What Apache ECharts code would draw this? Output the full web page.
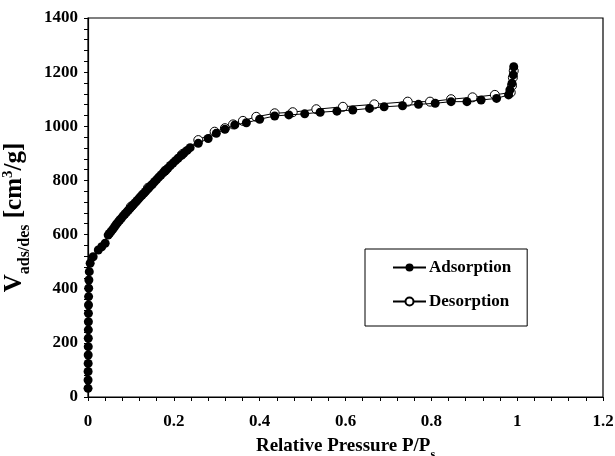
<!DOCTYPE html>
<html>
<head>
<meta charset="utf-8">
<script src="https://cdn.jsdelivr.net/npm/echarts@6/dist/echarts.min.js"></script>
<style>
  html, body { margin: 0; padding: 0; background: #fff; }
  #chart { width: 615px; height: 456px; }
</style>
</head>
<body>
<div id="chart"></div>
<script>
// Nitrogen isotherm: relative pressure vs. adsorbed / desorbed volume
const adsP = [
  0.0001, 0.0002, 0.0003, 0.0004, 0.0005, 0.0006, 0.0007, 0.0008, 0.0009, 0.0010,
  0.0012, 0.0014, 0.0016, 0.0020, 0.0030, 0.0050, 0.012, 0.024, 0.032, 0.040, 0.047,
  0.050, 0.054, 0.058, 0.062, 0.066, 0.070, 0.074, 0.078, 0.082, 0.086,
  0.090, 0.094, 0.098, 0.102, 0.106, 0.110, 0.114, 0.118, 0.122, 0.126,
  0.130, 0.134, 0.138, 0.142, 0.146, 0.150, 0.155, 0.160, 0.165, 0.170,
  0.175, 0.180, 0.186, 0.192, 0.198, 0.204, 0.210, 0.217, 0.224, 0.231, 0.238,
  0.257, 0.280, 0.299, 0.319, 0.342, 0.369, 0.400, 0.435, 0.468, 0.505,
  0.541, 0.580, 0.617, 0.656, 0.690, 0.733, 0.770, 0.809, 0.846, 0.883,
  0.916, 0.952, 0.980, 0.983, 0.988, 0.991, 0.992
];
const adsV = [
  32, 63, 94, 124, 155, 186, 217, 248, 278, 309,
  340, 371, 402, 432, 463, 494, 518, 543, 555, 568, 598,
  604, 612, 620, 629, 638, 646, 654, 661, 669, 676,
  683, 690, 697, 704, 711, 718, 725, 732, 739, 746,
  752, 759, 766, 773, 780, 786, 795, 803, 812, 820,
  828, 836, 845, 855, 864, 873, 882, 892, 902, 911, 921,
  937, 955, 974, 989, 1005, 1013, 1026, 1038, 1042, 1046,
  1052, 1056, 1060, 1066, 1072, 1076, 1081, 1085, 1091, 1091,
  1097, 1103, 1116, 1134, 1159, 1190, 1220
];
const desP = [
  0.992, 0.990, 0.988, 0.985, 0.948, 0.896, 0.846, 0.797, 0.745, 0.667,
  0.594, 0.532, 0.477, 0.435, 0.392, 0.361, 0.338, 0.319, 0.295, 0.257,
  0.220, 0.180, 0.140, 0.100
];
const desV = [
  1205, 1180, 1150, 1125, 1116, 1107, 1100, 1091, 1091, 1081,
  1072, 1063, 1052, 1048, 1035, 1020, 1007, 993, 980, 949,
  897, 836, 773, 703
];
const xTicks = [0, 0.2, 0.4, 0.6, 0.8, 1, 1.2];
const yTicks = [0, 200, 400, 600, 800, 1000, 1200, 1400];

const FONT = 'Liberation Serif';
const pairs = (xs, ys) => xs.map((x, i) => [x, ys[i]]);

const chart = echarts.init(document.getElementById('chart'), null, { renderer: 'canvas' });

const labelStyle = { color: '#000', fontFamily: FONT, fontWeight: 'bold', fontSize: 17 };
const axisCommon = {
  axisLine: { show: true, onZero: false, lineStyle: { color: '#000', width: 1.2 } },
  axisTick: { show: true, inside: false, length: 4, lineStyle: { color: '#000', width: 1 } },
  minorTick: { show: true, splitNumber: 5, length: 4, lineStyle: { color: '#000', width: 1 } },
  splitLine: { show: false }
};

chart.setOption({
  animation: false,
  backgroundColor: '#fff',
  grid: {
    left: 88, right: 12, top: 18, bottom: 59,
    outerBoundsMode: 'none',
    containLabel: false,
    show: true, borderColor: '#000', borderWidth: 1.2, backgroundColor: 'transparent'
  },
  legend: {
    data: ['Adsorption', 'Desorption'],
    orient: 'vertical',
    left: 365, top: 249,
    padding: [10, 16, 16, 27],
    itemGap: 17,
    itemWidth: 33, itemHeight: 10,
    borderColor: '#000', borderWidth: 1,
    textStyle: { color: '#000', fontFamily: FONT, fontWeight: 'bold', fontSize: 17, padding: [0, 0, 0, -2] }
  },
  xAxis: Object.assign({}, axisCommon, {
    type: 'value',
    min: xTicks[0], max: xTicks[xTicks.length - 1], interval: 0.2,
    name: '{b|Relative Pressure P/P}{s|s}',
    nameLocation: 'middle', nameGap: 37,
    nameTextStyle: {
      rich: {
        b: { fontFamily: FONT, fontWeight: 'bold', fontSize: 19, color: '#000', lineHeight: 22, verticalAlign: 'bottom' },
        s: { fontFamily: FONT, fontWeight: 'bold', fontSize: 12, color: '#000', lineHeight: 22, verticalAlign: 'bottom', padding: [0, 0, -5, 0] }
      }
    },
    axisLabel: Object.assign({}, labelStyle, { margin: 16, formatter: v => String(v) })
  }),
  yAxis: Object.assign({}, axisCommon, {
    type: 'value',
    min: yTicks[0], max: yTicks[yTicks.length - 1], interval: 200,
    name: '{b|V}{s|ads/des}{b| [cm}{p|3}{b|/g]}',
    nameLocation: 'middle', nameGap: 50, nameRotate: 90,
    nameTextStyle: {
      padding: [0, 20, 0, 0],
      rich: {
        b: { fontFamily: FONT, fontWeight: 'bold', fontSize: 25, color: '#000', lineHeight: 28, verticalAlign: 'bottom' },
        s: { fontFamily: FONT, fontWeight: 'bold', fontSize: 16, color: '#000', lineHeight: 28, verticalAlign: 'bottom', padding: [0, 0, -6, 0] },
        p: { fontFamily: FONT, fontWeight: 'bold', fontSize: 15, color: '#000', lineHeight: 28, verticalAlign: 'bottom', padding: [0, 0, 11, 0] }
      }
    },
    axisLabel: Object.assign({}, labelStyle, { margin: 10, formatter: v => String(v) })
  }),
  series: [
    {
      name: 'Desorption',
      type: 'line',
      data: pairs(desP, desV),
      symbol: 'circle', symbolSize: 9,
      lineStyle: { color: '#000', width: 1 },
      itemStyle: { color: '#fff', borderColor: '#000', borderWidth: 1 },
      z: 2
    },
    {
      name: 'Adsorption',
      type: 'line',
      data: pairs(adsP, adsV),
      symbol: 'circle', symbolSize: 9,
      lineStyle: { color: '#000', width: 1 },
      itemStyle: { color: '#000', borderColor: '#000', borderWidth: 0 },
      z: 3
    }
  ]
});
</script>
</body>
</html>
